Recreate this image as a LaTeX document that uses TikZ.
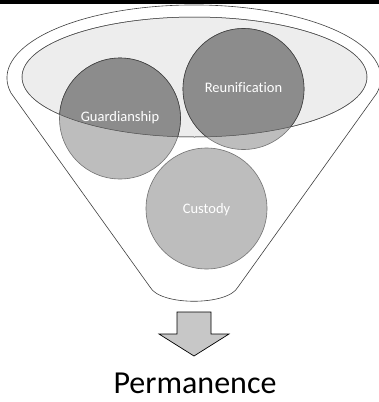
\documentclass[tikz,border=0pt]{standalone}
\usepackage{fontspec}
\setmainfont{Carlito}[Ligatures=NoCommon]
\begin{document}
\begin{tikzpicture}[x=1pt,y=-1pt,
  funnelline/.style={draw=black!75,line width=0.6pt},
  rim/.style={fill=black!7,draw=black!55,line width=0.5pt},
  bubble/.style={circle,minimum size=121pt,inner sep=0pt,fill=black!26,draw=black!55,line width=0.6pt},
  bubbledark/.style={fill=black!45,draw=black!75,line width=0.6pt},
  bubbletext/.style={text=white,font=\fontsize{14.5}{16}\selectfont,anchor=base},
  arrowbox/.style={fill=black!22,draw=black,line width=0.7pt,line join=miter},
  outcome/.style={font=\fontsize{32}{36}\selectfont,anchor=base}]
\useasboundingbox (0,0) rectangle (379,402);
\fill[white] (0,0) rectangle (379,402);
% heavy rule along the top
\fill[black] (0,0) rectangle (379,3.8);

% funnel body: outer rim, sloping sides and the rounded spout
\draw[funnelline] (150,287) -- (11,93)
  arc[start angle=191.9,end angle=-11.9,x radius=187pt,y radius=73pt]
  -- (238,287) .. controls (228,306) and (160,306) .. (150,287) -- cycle;

% mouth of the funnel
\draw[rim] (194.5,77) ellipse[x radius=172.5pt,y radius=60pt];

% the three options
\node[bubble] (g) at (120,118.5) {};
\node[bubble] (r) at (243.5,89) {};
\node[bubble] (c) at (206.5,208.5) {};

% parts of the options lying inside the mouth are shaded darker
\begin{scope}
  \clip (194.5,77) ellipse[x radius=172.5pt,y radius=60pt];
  \path[bubbledark] (g.center) circle[radius=60.5pt];
  \path[bubbledark] (r.center) circle[radius=60.5pt];
\end{scope}
\draw[draw=black!70,line width=0.5pt] (194.5,77) ellipse[x radius=172.5pt,y radius=60pt];

\node[bubbletext] (gt) at (120,121.5) {Guardianship};
\node[bubbletext] (rt) at (243.5,92.7) {Reunification};
\node[bubbletext] (ct) at (206.5,213) {Custody};

% block arrow out of the spout
\draw[arrowbox] (177,312) -- (211,312) -- (211,334) -- (229,334) -- (194,356)
  -- (159,334) -- (177,334) -- cycle;

\node[outcome] (p) at (195,393) {Permanence};
\end{tikzpicture}
\end{document}
